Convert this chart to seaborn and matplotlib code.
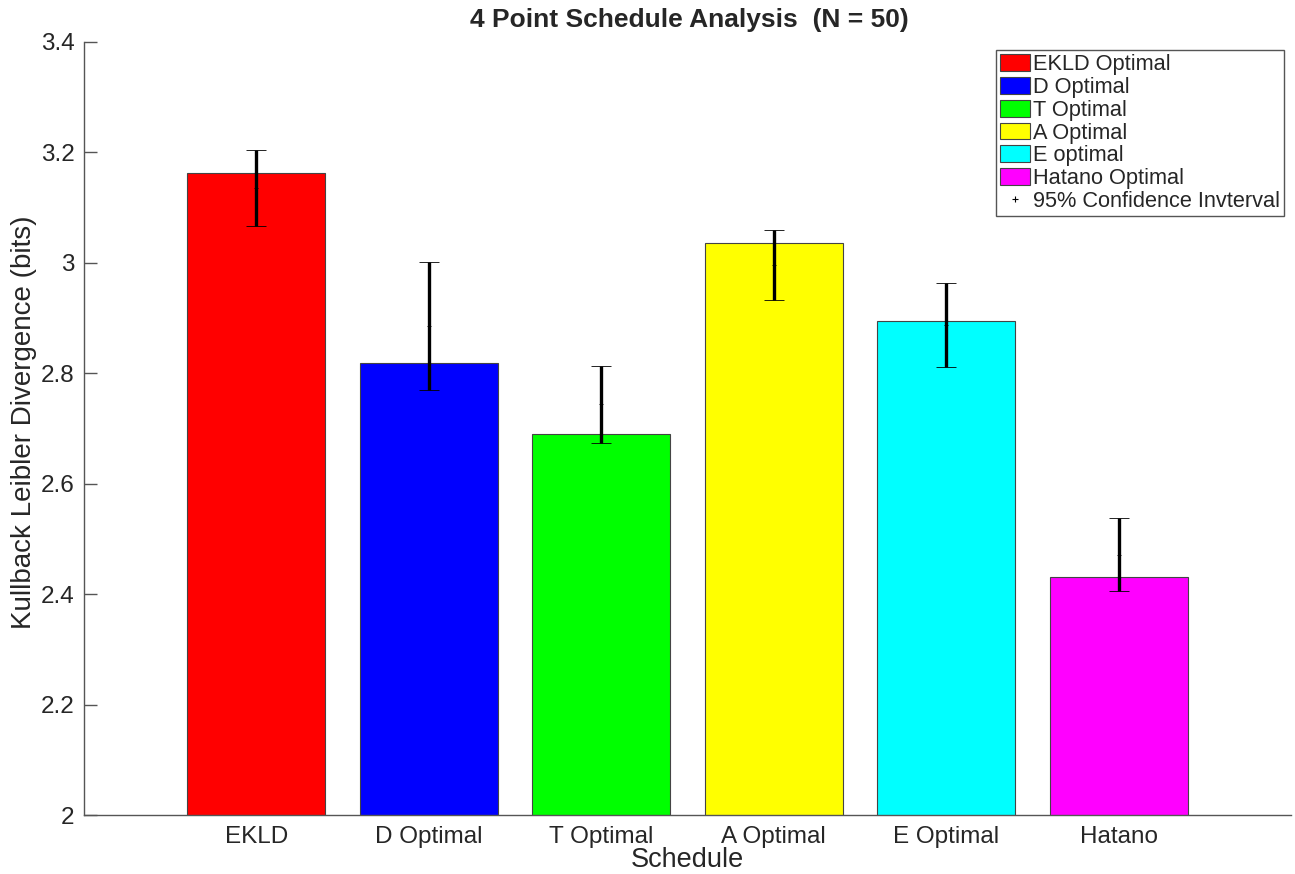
import matplotlib
matplotlib.use("Agg")
import matplotlib.pyplot as plt
import seaborn as sns
import numpy as np
import pandas as pd
from matplotlib.patches import Patch
from matplotlib.lines import Line2D

# Schedules and mean KL divergence (bits)
schedules = ["EKLD", "D Optimal", "T Optimal", "A Optimal", "E Optimal", "Hatano"]
kld_mean = [3.162, 2.819, 2.690, 3.036, 2.895, 2.431]
ci_low = [3.066, 2.770, 2.674, 2.933, 2.812, 2.405]
ci_high = [3.205, 3.001, 2.814, 3.060, 2.963, 2.537]
legend_labels = ["EKLD Optimal", "D Optimal", "T Optimal", "A Optimal",
                 "E optimal", "Hatano Optimal"]
bar_colors = ["#ff0000", "#0000ff", "#00ff00", "#ffff00", "#00ffff", "#ff00ff"]
y_ticks = [2.0, 2.2, 2.4, 2.6, 2.8, 3.0, 3.2, 3.4]
y_tick_labels = ["2", "2.2", "2.4", "2.6", "2.8", "3", "3.2", "3.4"]

sns.set_theme(style="white")
plt.rcParams["font.family"] = ["Liberation Sans", "DejaVu Sans"]
text_color = "#262626"
axis_color = "#555555"

fig = plt.figure(figsize=(12.95, 8.74), dpi=100)
ax = fig.add_axes([0.0649, 0.0675, 0.932, 0.8845])

df = pd.DataFrame({"Schedule": schedules, "KLD": kld_mean})
sns.barplot(data=df, x="Schedule", y="KLD", hue="Schedule", palette=bar_colors,
            legend=False, width=0.8, edgecolor="#444444", linewidth=0.8,
            saturation=1, ax=ax)

# 95% confidence intervals, drawn around the interval midpoint
lo = np.array(ci_low)
hi = np.array(ci_high)
mid = (lo + hi) / 2
half = (hi - lo) / 2
xpos = np.arange(len(schedules))
ax.errorbar(xpos, mid, yerr=half, fmt="+", color="black", ms=3, mew=0.6,
            elinewidth=2.4, capsize=7.5, capthick=2.4, zorder=5)

ax.set_xlim(-1, 6)
ax.set_ylim(2.0, 3.4)
ax.set_yticks(y_ticks)
ax.set_yticklabels(y_tick_labels)
ax.tick_params(axis="y", direction="in", length=9, width=1, color=axis_color,
               labelsize=17.5, labelcolor=text_color, pad=7, left=True)
ax.tick_params(axis="x", length=0, labelsize=17.5, labelcolor=text_color, pad=8)

for side in ["top", "right"]:
    ax.spines[side].set_visible(False)
for side in ["left", "bottom"]:
    ax.spines[side].set_color(axis_color)
    ax.spines[side].set_linewidth(1.0)

ax.set_xlabel("Schedule", fontsize=19.5, color=text_color, va="top")
ax.xaxis.set_label_coords(0.5, -0.041)
ax.set_ylabel("Kullback Leibler Divergence (bits)", fontsize=20, color=text_color,
              va="center")
ax.yaxis.set_label_coords(-0.05, 0.508)

fig.text(689 / 1295, 1 - 20 / 874, "4 Point Schedule Analysis  (N = 50)",
         ha="center", va="center", fontsize=19, fontweight="bold", color=text_color)

handles = [Patch(facecolor=c, edgecolor="#444444", linewidth=0.8) for c in bar_colors]
handles.append(Line2D([], [], linestyle="none", marker="+", color="black",
                      ms=4, mew=0.8))
labels = legend_labels + ["95% Confidence Invterval"]
leg = fig.legend(handles, labels, loc="upper right",
                 bbox_to_anchor=(1284 / 1295, 1 - 50 / 874),
                 fontsize=15.7, frameon=True, fancybox=False, framealpha=1,
                 edgecolor=axis_color, handlelength=1.4, handleheight=0.8,
                 handletextpad=0.1, labelspacing=0.08, borderpad=0.2,
                 borderaxespad=0)
leg.get_frame().set_linewidth(1.0)
for t in leg.get_texts():
    t.set_color(text_color)

fig.savefig("out.png", dpi=100, facecolor="white")
